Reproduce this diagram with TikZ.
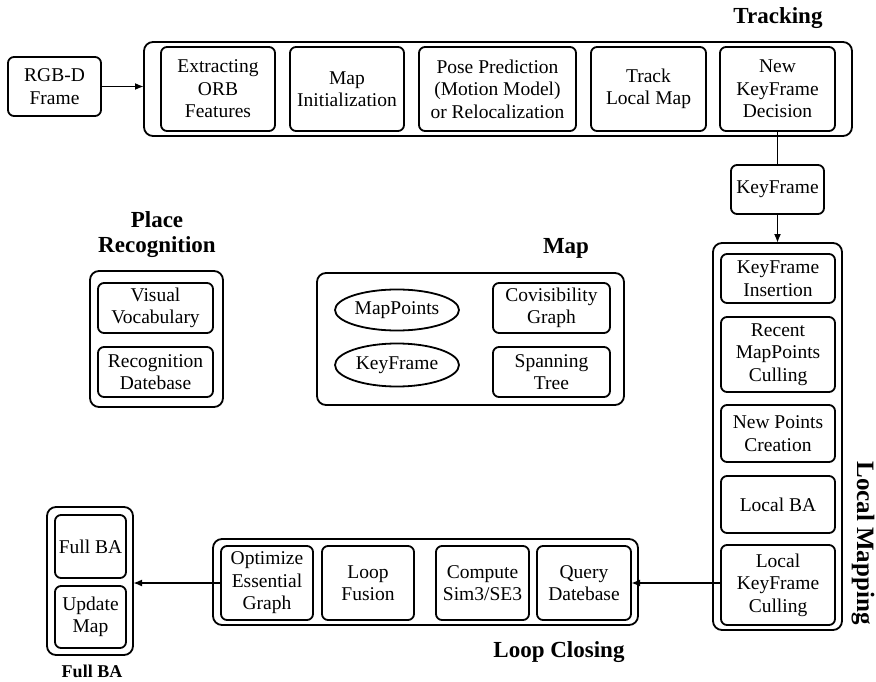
\documentclass[tikz,border=0pt]{standalone}
\usepackage{fontspec}
\setmainfont{Liberation Serif}
\usetikzlibrary{arrows.meta,shapes.geometric}
\begin{document}
\begin{tikzpicture}[x=1pt,y=-1pt,
  every node/.style={inner sep=0pt, outer sep=0pt},
  inbox/.style={draw, rounded corners=6pt, line width=1.8pt, align=center,
    font=\rmfamily\fontsize{19.5}{22.5}\selectfont},
  outbox/.style={draw, rounded corners=9pt, line width=1.8pt},
  ell/.style={draw, ellipse, line width=1.8pt, align=center,
    font=\rmfamily\fontsize{19.5}{22.5}\selectfont},
  ttl/.style={font=\rmfamily\fontsize{23}{25}\selectfont\bfseries, align=center},
  conn/.style={line width=1.8pt},
  arr/.style={line width=1.8pt, -{Latex[length=9pt,width=7pt]}}
]
\useasboundingbox (0,0) rectangle (876,682);

% Tracking
\node[inbox, minimum width=93pt, minimum height=59pt] (rgbd) at (54.5,86.5) {RGB-D\\Frame};
\node[outbox, minimum width=708pt, minimum height=94pt] (trk) at (498,89) {};
\node[inbox, minimum width=114pt, minimum height=84pt] (t1) at (218,89) {Extracting\\ORB\\Features};
\node[inbox, minimum width=114pt, minimum height=84pt] (t2) at (347,89) {Map\\Initialization};
\node[inbox, minimum width=157pt, minimum height=84pt] (t3) at (497.5,89) {Pose Prediction\\(Motion Model)\\or Relocalization};
\node[inbox, minimum width=115pt, minimum height=84pt] (t4) at (648.5,89) {Track\\Local Map};
\node[inbox, minimum width=115pt, minimum height=84pt] (t5) at (777.5,89) {New\\KeyFrame\\Decision};
\node[ttl] (trkl) at (778,18) {Tracking};

\node[inbox, minimum width=93pt, minimum height=49pt] (kf) at (777.5,189.5) {KeyFrame};

% Local Mapping
\node[outbox, minimum width=129pt, minimum height=387pt] (lm) at (777.5,436.5) {};
\node[inbox, minimum width=114pt, minimum height=49pt] (l1) at (778,278.5) {KeyFrame\\Insertion};
\node[inbox, minimum width=114pt, minimum height=75pt] (l2) at (778,354.5) {Recent\\MapPoints\\Culling};
\node[inbox, minimum width=114pt, minimum height=57pt] (l3) at (778,433.5) {New Points\\Creation};
\node[inbox, minimum width=114pt, minimum height=57pt] (l4) at (778,504.5) {Local BA};
\node[inbox, minimum width=114pt, minimum height=80pt] (l5) at (778,585) {Local\\KeyFrame\\Culling};
\node[ttl, font=\rmfamily\fontsize{25}{27}\selectfont\bfseries, rotate=-90] (lml) at (863,543) {Local Mapping};

% Loop Closing
\node[outbox, minimum width=425pt, minimum height=86pt] (lc) at (425.5,582) {};
\node[inbox, minimum width=92pt, minimum height=74pt] (c1) at (267,583) {Optimize\\Essential\\Graph};
\node[inbox, minimum width=92pt, minimum height=74pt] (c2) at (368,583) {Loop\\Fusion};
\node[inbox, minimum width=93pt, minimum height=74pt] (c3) at (482.5,583) {Compute\\Sim3/SE3};
\node[inbox, minimum width=94pt, minimum height=74pt] (c4) at (584,583) {Query\\Datebase};
\node[ttl] (lcl) at (559,652) {Loop Closing};

% Full BA
\node[outbox, minimum width=86pt, minimum height=148pt] (fb) at (90,581) {};
\node[inbox, minimum width=71pt, minimum height=63pt] (f1) at (90.5,546.5) {Full BA};
\node[inbox, minimum width=71pt, minimum height=62pt] (f2) at (90.5,617) {Update\\Map};
\node[ttl, font=\rmfamily\fontsize{18}{20}\selectfont\bfseries] (fbl) at (92,671) {Full BA};

% Place Recognition
\node[ttl] (prl) at (157,234.5) {Place\\Recognition};
\node[outbox, minimum width=133pt, minimum height=136pt] (pr) at (156.5,339) {};
\node[inbox, minimum width=115pt, minimum height=50pt] (p1) at (155.5,308) {Visual\\Vocabulary};
\node[inbox, minimum width=115pt, minimum height=50pt] (p2) at (155.5,372) {Recognition\\Datebase};

% Map
\node[ttl] (mpl) at (566,248) {Map};
\node[outbox, minimum width=307pt, minimum height=132pt] (mp) at (470.5,339) {};
\node[ell, minimum width=124pt, minimum height=41pt] (m1) at (397,310) {MapPoints};
\node[ell, minimum width=124pt, minimum height=43pt] (m2) at (397,365) {KeyFrame};
\node[inbox, minimum width=117pt, minimum height=50pt] (m3) at (551.5,308) {Covisibility\\Graph};
\node[inbox, minimum width=117pt, minimum height=50pt] (m4) at (551.5,372) {Spanning\\Tree};

% Connectors
\draw[arr] (rgbd.east) -- (rgbd.east -| trk.west);
\draw[conn] (t5.south) -- (kf.north);
\draw[arr] (kf.south) -- (lm.north);
\draw[arr] (l5.west |- c4.east) -- (c4.east);
\draw[arr] (c1.west) -- (c1.west -| fb.east);
\end{tikzpicture}
\end{document}
